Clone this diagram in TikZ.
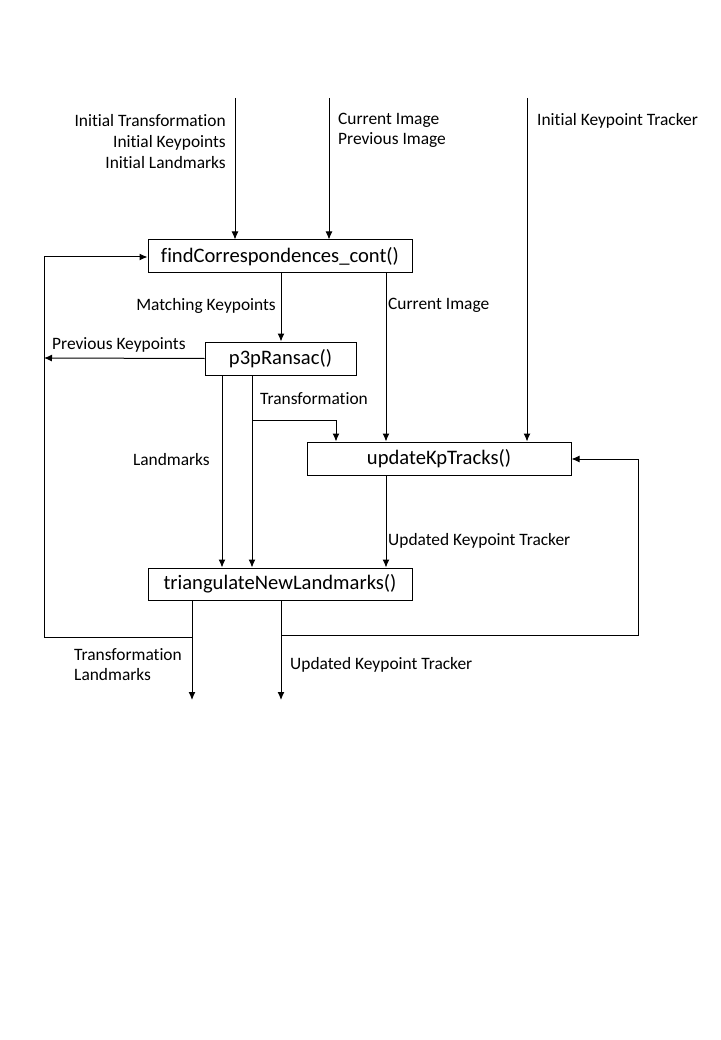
\documentclass[tikz,border=0pt]{standalone}
\usepackage{fontspec}
\setmainfont{Carlito}[RawFeature={-liga;-clig}]
\usetikzlibrary{arrows.meta}
\begin{document}
\begin{tikzpicture}[x=1pt,y=-1pt,
  box/.style={draw,line width=1pt,rectangle,inner sep=0pt,minimum height=33pt,font=\fontsize{20.6}{24}\selectfont},
  lbl/.style={inner sep=0pt,font=\fontsize{17.4}{20.6}\selectfont},
  conn/.style={line width=1pt,-{Latex[length=8pt,width=7pt]}},
  plain/.style={line width=1pt}]
\useasboundingbox (0,0) rectangle (720,1040);
% boxes
\node[box,minimum width=264pt] (fc) at (280,256.5) {findCorrespondences\_cont()};
\node[box,minimum width=151pt] (pr) at (280.5,358.5) {p3pRansac()};
\node[box,minimum width=264pt] (uk) at (439,458.5) {updateKpTracks()};
\node[box,minimum width=264pt,minimum height=32pt] (tn) at (280,584) {triangulateNewLandmarks()};
% coordinates
\coordinate (in1) at (235,98);
\coordinate (in2) at (329,98);
\coordinate (in3) at (527,98);
\coordinate (lfb) at (44,637);
\coordinate (lft) at (44,257);
\coordinate (pk) at (44,358);
\coordinate (br) at (252,420);
\coordinate (brr) at (336,420);
\coordinate (rb) at (638,635);
\coordinate (rt) at (638,459);
\coordinate (o1) at (192,700);
\coordinate (o2) at (281,700);
% input arrows
\draw[conn] (in1) -- (in1 |- fc.north);
\draw[conn] (in2) -- (in2 |- fc.north);
\draw[conn] (in3) -- (in3 |- uk.north);
% labels
\node[lbl,anchor=east,align=right] (l1) at (226,141.5) {Initial Transformation\\Initial Keypoints\\Initial Landmarks};
\node[lbl,anchor=west,align=left] (l2) at (338,130.5) {Current Image\\Previous Image};
\node[lbl,anchor=west] (l3) at (537,120.5) {Initial Keypoint Tracker};
\node[lbl,anchor=east] (l4) at (276,305.5) {Matching Keypoints};
\node[lbl,anchor=west] (l5) at (388,305.5) {Current Image};
\node[lbl,anchor=west] (l6) at (52,344.5) {Previous Keypoints};
\node[lbl,anchor=west] (l7) at (260,398.5) {Transformation};
\node[lbl,anchor=east] (l8) at (210,459.5) {Landmarks};
\node[lbl,anchor=west] (l9) at (388,540.5) {Updated Keypoint Tracker};
\node[lbl,anchor=west,align=left] (l10) at (74,664.5) {Transformation\\Landmarks};
\node[lbl,anchor=west] (l11) at (290,664.5) {Updated Keypoint Tracker};
% connectors
\draw[conn] (fc.south -| 281,0) -- (pr.north -| 281,0);
\draw[conn] (fc.south -| 386,0) -- (uk.north -| 386,0);
\draw[conn] (pr.west) -- (pk);
\draw[conn] (pr.south -| 222,0) -- (tn.north -| 222,0);
\draw[conn] (pr.south -| 252,0) -- (tn.north -| 252,0);
\draw[conn] (br) -- (brr) -- (brr |- uk.north);
\draw[conn] (uk.south -| 386,0) -- (tn.north -| 386,0);
\draw[conn] (tn.south -| 192,0) -- (o1);
\draw[conn] (tn.south -| 281,0) -- (o2);
\draw[conn] (tn.south -| 192,0) -- (192,637) -- (lfb) -- (lft) -- (fc.west |- lft);
\draw[conn] (tn.south -| 281,0) -- (281,635) -- (rb) -- (rt) -- (uk.east |- rt);
\end{tikzpicture}
\end{document}
